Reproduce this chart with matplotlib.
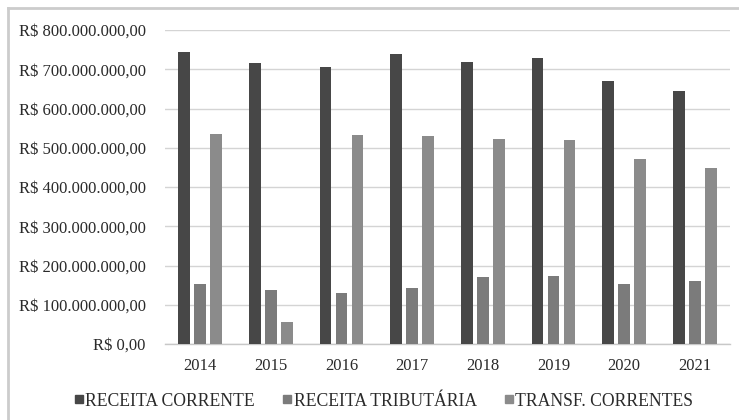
import matplotlib
matplotlib.use("Agg")
import matplotlib.pyplot as plt
from matplotlib.lines import Line2D
from matplotlib.ticker import FuncFormatter
import numpy as np

years = ["2014", "2015", "2016", "2017", "2018", "2019", "2020", "2021"]
receita_corrente = [744e6, 716e6, 705e6, 739e6, 719e6, 729e6, 671e6, 645e6]
receita_tributaria = [154e6, 138e6, 129e6, 143e6, 170e6, 173e6, 154e6, 161e6]
transf_correntes = [536e6, 57e6, 532e6, 529e6, 523e6, 521e6, 472e6, 449e6]
series_names = ["RECEITA CORRENTE", "RECEITA TRIBUTÁRIA", "TRANSF. CORRENTES"]
colors = ["#474747", "#7b7b7b", "#8b8b8b"]

plt.rcParams['font.family'] = ['Liberation Serif', 'DejaVu Serif']

W, H = 739, 420
fig = plt.figure(figsize=(W / 100, H / 100), dpi=100)
ax = fig.add_axes([165 / W, 1 - 344 / H, (730 - 165) / W, (344 - 30) / H])

x = np.arange(len(years))
step = 0.227
width = 0.167
for i, (vals, c) in enumerate(zip([receita_corrente, receita_tributaria, transf_correntes], colors)):
    ax.bar(x + (i - 1) * step, vals, width=width, color=c, zorder=3)

ax.set_xlim(-0.5, len(years) - 0.5)
ax.set_ylim(0, 800e6)
ax.set_yticks(np.arange(0, 800e6 + 1, 100e6))


def fmt(v, pos):
    if v == 0:
        return "R$ 0,00"
    s = f"{int(round(v)):,}".replace(",", ".")
    return f"R$ {s},00"


ax.yaxis.set_major_formatter(FuncFormatter(fmt))
ax.set_xticks(x)
ax.set_xticklabels(years)
ax.tick_params(axis='both', length=0, labelsize=12, colors='#2a2a2a')
ax.tick_params(axis='y', pad=14)
ax.tick_params(axis='x', pad=10)
ax.grid(axis='y', color='#d4d4d4', linewidth=1, zorder=0)
for s in ['top', 'right', 'left']:
    ax.spines[s].set_visible(False)
ax.spines['bottom'].set_color('#c8c8c8')
ax.spines['bottom'].set_linewidth(1)

handles = [Line2D([], [], marker='s', linestyle='none', color=c, markersize=6) for c in colors]
fig.legend(handles, series_names, loc='center', bbox_to_anchor=(384 / W, 1 - 401 / H),
           ncol=3, frameon=False, fontsize=12.7, handlelength=0.5, handletextpad=0.1,
           columnspacing=1.6, labelcolor='#2a2a2a')

fig.add_artist(Line2D([8 / W, 1], [1 - 8 / H, 1 - 8 / H], color='#cccccc', linewidth=2, transform=fig.transFigure))
fig.add_artist(Line2D([8 / W, 8 / W], [0, 1 - 8 / H], color='#cccccc', linewidth=2, transform=fig.transFigure))

fig.savefig("out.png", dpi=100)
